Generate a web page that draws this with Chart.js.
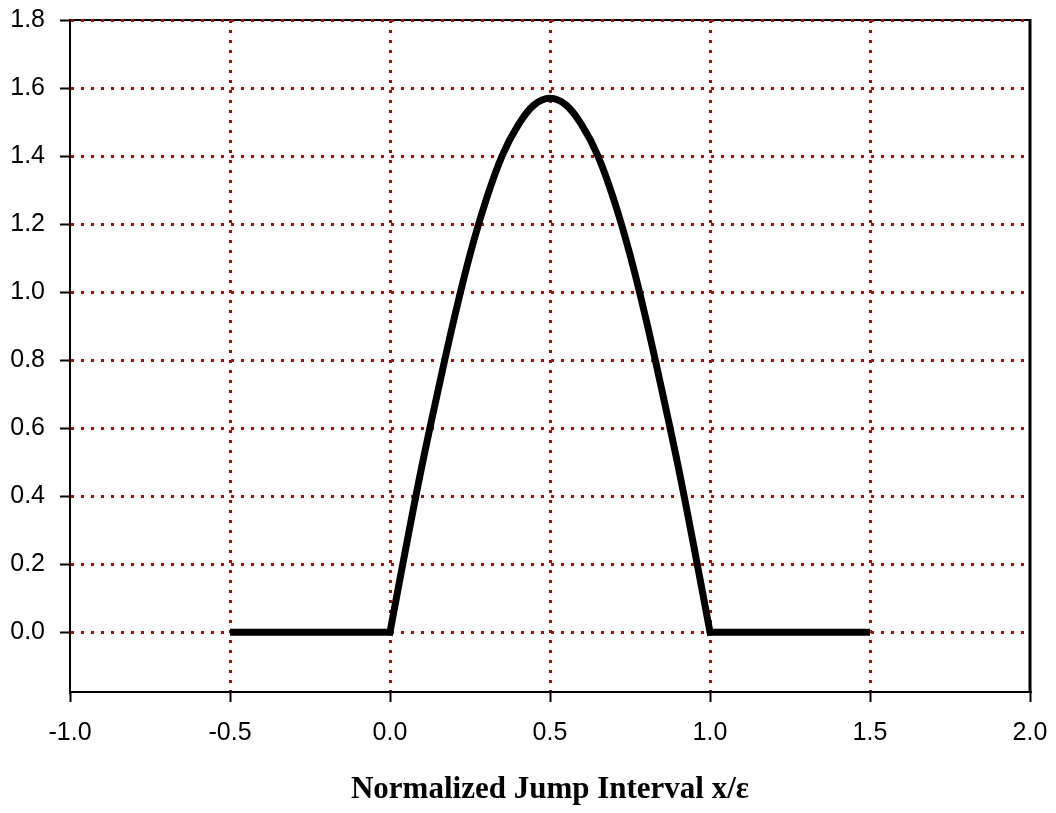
<!DOCTYPE html>
<html>
<head>
<meta charset="utf-8">
<script src="https://cdn.jsdelivr.net/npm/chart.js@4"></script>
<style>
  html, body { margin: 0; padding: 0; background: #ffffff; }
  #wrap { width: 1056px; height: 813px; }
</style>
</head>
<body>
<div id="wrap"><canvas id="c" width="1056" height="813"></canvas></div>
<script>
// ---- data ----
const X_VALUES = [-0.5, 0.0, 0.05, 0.10, 0.15, 0.20, 0.25, 0.30, 0.35, 0.40, 0.45, 0.50,
                  0.55, 0.60, 0.65, 0.70, 0.75, 0.80, 0.85, 0.90, 0.95, 1.0, 1.5];
const Y_VALUES = [0.0, 0.0, 0.25, 0.49, 0.71, 0.92, 1.11, 1.27, 1.40, 1.49, 1.55, 1.57,
                  1.55, 1.49, 1.40, 1.27, 1.11, 0.92, 0.71, 0.49, 0.25, 0.0, 0.0];
const X_TICKS = [-1.0, -0.5, 0.0, 0.5, 1.0, 1.5, 2.0];
const Y_TICKS = [0.0, 0.2, 0.4, 0.6, 0.8, 1.0, 1.2, 1.4, 1.6, 1.8];
const X_TITLE = 'Normalized Jump Interval x/\u03b5';

const GRID_RED = '#9b1408';

const points = X_VALUES.map((x, i) => ({ x: x, y: Y_VALUES[i] }));
const hump = points.filter(p => p.x >= 0 && p.x <= 1);
const leftFlat = points.filter(p => p.x <= 0);
const rightFlat = points.filter(p => p.x >= 1);

const framePlugin = {
  id: 'frame',
  beforeDraw(chart) {
    const { ctx, chartArea: a } = chart;
    ctx.save();
    ctx.fillStyle = '#ffffff';
    ctx.fillRect(0, 0, chart.width, chart.height);
    ctx.strokeStyle = '#000000';
    ctx.lineWidth = 2;
    ctx.beginPath();
    ctx.moveTo(a.left, a.top);
    ctx.lineTo(a.right, a.top);
    ctx.stroke();
    ctx.lineWidth = 3;
    ctx.beginPath();
    ctx.moveTo(a.right, a.top - 1);
    ctx.lineTo(a.right, a.bottom);
    ctx.stroke();
    ctx.restore();
  }
};

const lineStyle = {
  showLine: true,
  borderColor: '#000000',
  borderWidth: 7,
  pointRadius: 0,
  pointHoverRadius: 0,
  fill: false,
  borderJoinStyle: 'miter'
};

const tickFont = { family: 'Liberation Sans, Arial, sans-serif', size: 25 };

new Chart(document.getElementById('c'), {
  type: 'scatter',
  data: {
    datasets: [
      Object.assign({ data: leftFlat, tension: 0, borderCapStyle: 'butt' }, lineStyle),
      Object.assign({ data: hump, tension: 0.4, borderCapStyle: 'square' }, lineStyle),
      Object.assign({ data: rightFlat, tension: 0, borderCapStyle: 'butt' }, lineStyle)
    ]
  },
  options: {
    responsive: false,
    animation: false,
    events: [],
    layout: { padding: { top: 20, right: 26, left: 0, bottom: 0 } },
    plugins: { legend: { display: false }, tooltip: { enabled: false } },
    scales: {
      x: {
        type: 'linear',
        min: -1.0,
        max: 2.0,
        afterBuildTicks: (s) => { s.ticks = X_TICKS.map(v => ({ value: v })); },
        afterFit: (s) => { s.height = 121; s.paddingLeft = 0; s.paddingRight = 0; },
        ticks: {
          color: '#000000',
          font: tickFont,
          padding: 16,
          maxRotation: 0,
          callback: (v) => Number(v).toFixed(1)
        },
        grid: {
          color: (c) => (c.tick && (c.tick.value === -1 || c.tick.value === 2)) ? 'rgba(0,0,0,0)' : GRID_RED,
          lineWidth: 3,
          tickColor: '#000000',
          tickWidth: 2,
          tickLength: 10,
          tickBorderDash: []
        },
        border: { display: true, color: '#000000', width: 2, dash: [3, 7] },
        title: {
          display: true,
          text: X_TITLE,
          color: '#000000',
          font: { family: 'Liberation Serif, Times New Roman, serif', size: 31, weight: 'bold' },
          padding: { top: 0, bottom: 4 }
        }
      },
      y: {
        type: 'linear',
        min: -0.176,
        max: 1.8,
        afterBuildTicks: (s) => { s.ticks = Y_TICKS.map(v => ({ value: v })); },
        afterFit: (s) => { s.width = 70; s.paddingTop = 0; s.paddingBottom = 0; },
        ticks: {
          color: '#000000',
          font: tickFont,
          padding: 15,
          callback: (v) => Number(v).toFixed(1)
        },
        grid: {
          color: GRID_RED,
          lineWidth: 3,
          tickColor: '#000000',
          tickWidth: 2,
          tickLength: 10,
          tickBorderDash: []
        },
        border: { display: true, color: '#000000', width: 2, dash: [3, 7] }
      }
    }
  },
  plugins: [framePlugin]
});
</script>
</body>
</html>
